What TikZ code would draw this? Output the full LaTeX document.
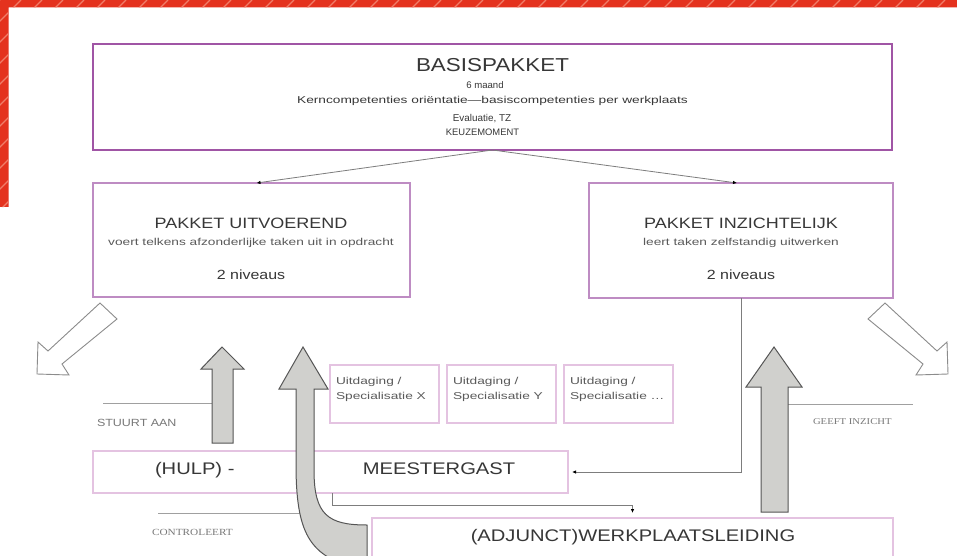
\documentclass[tikz,border=0pt]{standalone}
\usepackage{fontspec}
\setmainfont[FakeStretch=1.2]{Liberation Sans}
\newfontfamily\plainsans{Liberation Sans}
\newfontfamily\widesans[FakeStretch=1.37]{Liberation Sans}
\newfontfamily\serifx[FakeStretch=1.2]{Liberation Serif}
\usetikzlibrary{arrows.meta,calc}
\definecolor{redband}{RGB}{228,50,30}
\definecolor{stripecol}{RGB}{240,125,105}
\definecolor{purpleA}{RGB}{160,85,165}
\definecolor{purpleB}{RGB}{190,140,195}
\definecolor{pinkA}{RGB}{228,195,225}
\definecolor{textdark}{RGB}{55,55,55}
\definecolor{textmid}{RGB}{90,90,90}
\definecolor{labelgray}{RGB}{120,120,120}
\definecolor{connGray}{RGB}{125,125,125}
\definecolor{hollowGray}{RGB}{140,140,140}
\definecolor{arrowEdge}{RGB}{85,85,85}
\definecolor{arrowFill}{RGB}{208,208,205}
\definecolor{ruleGray}{RGB}{160,160,160}
\newcommand{\txtsize}[1]{\fontsize{#1}{#1}\selectfont}
\tikzset{
 bigbox/.style={draw=purpleA, line width=2.2pt, inner sep=0pt, outer sep=0pt, anchor=north west},
 pbox/.style={draw=purpleB, line width=1.1pt, inner sep=0pt, outer sep=0pt, anchor=north west},
 pinkbox/.style={draw=pinkA, line width=1.2pt, inner sep=0pt, outer sep=0pt, anchor=north west},
 txt/.style={inner sep=0pt, outer sep=0pt, anchor=base, text=textdark},
 subtxt/.style={inner sep=0pt, outer sep=0pt, anchor=base, text=textmid},
 lbltxt/.style={inner sep=0pt, outer sep=0pt, anchor=base west, text=labelgray},
 conn/.style={draw=connGray, line width=0.8pt, -{Latex[length=4pt,width=3.5pt,black]}},
 hollow/.style={draw=hollowGray, line width=0.9pt, fill=white},
 grayarrow/.style={draw=arrowEdge, line width=1pt, fill=arrowFill},
 rulestyle/.style={draw=ruleGray, line width=0.8pt},
}
\begin{document}
\begin{tikzpicture}[x=1pt,y=-1pt]
\useasboundingbox (0,0) rectangle (957,556);
\begin{scope}
\clip (0,0) rectangle (957,556);
\fill[white] (0,0) rectangle (957,556);
% red striped corner band
\begin{scope}
\clip (0,0) rectangle (957,7.5) (0,0) rectangle (8.5,207);
\fill[redband] (0,0) rectangle (957,207);
\foreach \k in {0,...,58} {
  \draw[stripecol, line width=1.3pt] ({\k*21},0) -- ({\k*21-230},230);
}
\end{scope}

% boxes
\node[bigbox, minimum width=799pt, minimum height=106pt] (bp) at (93,44) {};
\node[pbox, minimum width=317pt, minimum height=114pt] (pu) at (93,183) {};
\node[pbox, minimum width=304pt, minimum height=115pt] (pi) at (589,183) {};
\node[pinkbox, minimum width=475pt, minimum height=42pt] (mg) at (93,451) {};
\node[pinkbox, minimum width=521pt, minimum height=60pt] (adj) at (372,518) {};
\node[pinkbox, minimum width=109pt, minimum height=58pt] (u1) at (330,365) {};
\node[pinkbox, minimum width=109pt, minimum height=58pt] (u2) at (447,365) {};
\node[pinkbox, minimum width=109pt, minimum height=58pt] (u3) at (564,365) {};

% texts top box
\node[txt, font={\txtsize{18.7}}] (bpt) at (492.5,72) {BASISPAKKET};
\node[txt, font={\plainsans\txtsize{9.6}}] (bp1) at (485,88.5) {6 maand};
\node[txt, font={\widesans\txtsize{10}}] (bp2) at (492.5,104) {Kerncompetenties oriëntatie—basiscompetenties per werkplaats};
\node[txt, font={\plainsans\txtsize{9.9}}] (bp3) at (482,121.5) {Evaluatie, TZ};
\node[txt, font={\plainsans\txtsize{9.4}}] (bp4) at (482.5,135.5) {KEUZEMOMENT};

% pakket uitvoerend
\node[txt, font={\txtsize{15}}] (put) at (251,228) {PAKKET UITVOEREND};
\node[subtxt, font={\widesans\txtsize{10}}] (pus) at (251,245) {voert telkens afzonderlijke taken uit in opdracht};
\node[txt, font={\txtsize{13.3}}] (pun) at (251,279) {2 niveaus};

% pakket inzichtelijk
\node[txt, font={\txtsize{15}}] (pit) at (741,228) {PAKKET INZICHTELIJK};
\node[subtxt, font={\widesans\txtsize{10}}] (pis) at (741,245) {leert taken zelfstandig uitwerken};
\node[txt, font={\txtsize{13.3}}] (pin) at (741,279) {2 niveaus};

% uitdaging boxes
\node[lbltxt, text=textmid, font={\widesans\txtsize{10}}] (u1a) at (336,384) {Uitdaging /};
\node[lbltxt, text=textmid, font={\widesans\txtsize{10}}] (u1b) at (336,399) {Specialisatie X};
\node[lbltxt, text=textmid, font={\widesans\txtsize{10}}] (u2a) at (453,384) {Uitdaging /};
\node[lbltxt, text=textmid, font={\widesans\txtsize{10}}] (u2b) at (453,399) {Specialisatie Y};
\node[lbltxt, text=textmid, font={\widesans\txtsize{10}}] (u3a) at (570,384) {Uitdaging /};
\node[lbltxt, text=textmid, font={\widesans\txtsize{10}}] (u3b) at (570,399) {Specialisatie \dots};

% meestergast, adjunct
\node[txt, anchor=base west, font={\txtsize{16.8}}] (hulp) at (155,474) {(HULP) -};
\node[txt, font={\txtsize{16.8}}] (mgt) at (439,474) {MEESTERGAST};
\node[txt, font={\txtsize{16.8}}] (adjt) at (633,541) {(ADJUNCT)WERKPLAATSLEIDING};

% side labels
\node[lbltxt, font={\txtsize{10.4}}] (stuurt) at (97,426) {STUURT AAN};
\node[lbltxt, font={\serifx\txtsize{9.4}}] (contr) at (152,535) {CONTROLEERT};
\node[lbltxt, font={\serifx\txtsize{8.9}}] (geeft) at (813,424) {GEEFT INZICHT};

% connectors
\draw[conn] (bp.south) -- ($(pu.north)+(5,0)$);
\draw[conn] (bp.south) -- ($(pi.north)+(-4,0)$);
\draw[conn, shorten >=4pt] (pi.south) |- (mg.east);
\coordinate (mgx) at (332,0);
\draw[conn, shorten >=5pt] (mg.south -| mgx) -- ++(0,12) -| (adj.north);

% rules next to labels
\coordinate (r1a) at (103,403); \coordinate (r1b) at (212,403);
\coordinate (r2a) at (158,513); \coordinate (r2b) at (300,513);
\coordinate (r3a) at (788,404); \coordinate (r3b) at (913,404);
\draw[rulestyle] (r1a) -- (r1b);
\draw[rulestyle] (r2a) -- (r2b);
\draw[rulestyle] (r3a) -- (r3b);

% hollow arrows
\draw[hollow] (100,303) -- (117,319) -- (62,364) -- (69,375) -- (37,374) -- (38,342) -- (48,351) -- cycle;
\draw[hollow] (885,303) -- (868,319) -- (923,364) -- (916,375) -- (948,374) -- (947,342) -- (937,351) -- cycle;

% gray arrows
\draw[grayarrow] (212,443) -- (212,369) -- (201,369) -- (222,347) -- (244,369) -- (233,369) -- (233,443) -- cycle;
\draw[grayarrow] (761,512) -- (761,387) -- (746,387) -- (774,347) -- (802,387) -- (788,387) -- (788,512) -- cycle;
\draw[grayarrow] (296,470) -- (296,389) -- (279,389) -- (303,347) -- (328,389) -- (314,389) -- (314,470)
  .. controls (314,515) and (328,525) .. (367,525) -- (367,570)
  .. controls (310,560) and (297,535) .. (296,470) -- cycle;
\end{scope}
\end{tikzpicture}
\end{document}
